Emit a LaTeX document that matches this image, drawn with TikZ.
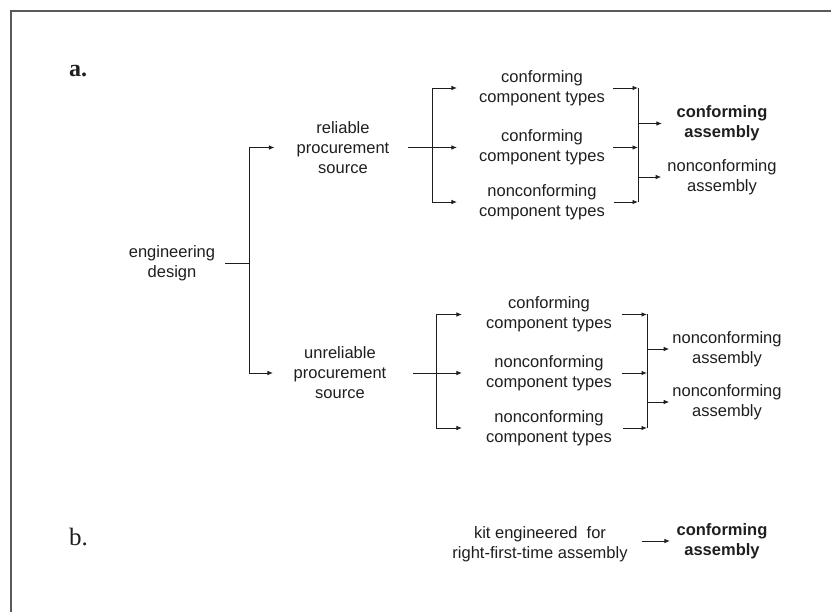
\documentclass[tikz,border=0pt]{standalone}
\usepackage{fontspec}
\setmainfont{Liberation Sans}
\newfontfamily\panelfont{Liberation Serif}
\usetikzlibrary{arrows.meta}
\definecolor{ink}{HTML}{1E1E1E}
\definecolor{framegray}{HTML}{5A5A5A}
\begin{document}
\begin{tikzpicture}[x=1pt,y=-1pt,
  lbl/.style={font=\fontsize{16.5}{20}\selectfont, align=center, inner sep=0pt, text=ink},
  boldlbl/.style={lbl, font=\fontsize{16.5}{20}\selectfont\bfseries},
  panel/.style={anchor=base west, inner sep=0pt, text=ink},
  conn/.style={draw=ink, line width=0.9pt},
  arr/.style={conn, -{Latex[length=5.5pt,width=4.5pt]}},
  frameline/.style={draw=framegray, line width=1.3pt}]
\useasboundingbox (0,0) rectangle (831,612);

% partial frame
\draw[frameline] (831,11) -- (11,11) -- (11,612);

% panel letters
\node[panel, font=\panelfont\fontsize{24}{24}\selectfont\bfseries] (pa) at (69,77) {a.};
\node[panel, font=\panelfont\fontsize{25}{25}\selectfont] (pb) at (69,545) {b.};

% panel a: nodes
\node[lbl] (ed)  at (172,263.5) {engineering\\design};
\node[lbl] (rel) at (343,147.5) {reliable\\procurement\\source};
\node[lbl] (unr) at (340,373) {unreliable\\procurement\\source};

\node[lbl] (c1) at (542,88)    {conforming\\component types};
\node[lbl] (c2) at (542,147.5) {conforming\\component types};
\node[lbl] (c3) at (542,202)   {nonconforming\\component types};
\node[boldlbl] (ca1) at (722,123.5) {conforming\\assembly};
\node[lbl] (na1) at (722,177) {nonconforming\\assembly};

\node[lbl] (d1) at (549,314.5) {conforming\\component types};
\node[lbl] (d2) at (549,373)   {nonconforming\\component types};
\node[lbl] (d3) at (549,428)   {nonconforming\\component types};
\node[lbl] (na2) at (727,349) {nonconforming\\assembly};
\node[lbl] (na3) at (727,402) {nonconforming\\assembly};

% junction points
\coordinate (j0) at (249,263.5);
\coordinate (jr) at (432,147.5);
\coordinate (jc) at (638,147.5);
\coordinate (ju) at (436,373);
\coordinate (jd) at (647,373);

% engineering design -> procurement sources
\draw[conn, shorten <=10pt] (ed.east) -- (j0);
\draw[conn] (j0 |- rel) -- (j0 |- unr);
\draw[arr, shorten >=22pt] (j0 |- rel) -- (rel.west);
\draw[arr, shorten >=20.5pt] (j0 |- unr) -- (unr.west);

% reliable source -> component types
\draw[conn, shorten <=18pt] (rel.east) -- (jr);
\draw[conn] (jr |- c1) -- (jr |- c3);
\draw[arr, shorten >=22pt] (jr |- c1) -- (c1.west);
\draw[arr, shorten >=22pt] (jr) -- (c2.west);
\draw[arr, shorten >=22pt] (jr |- c3) -- (c3.west);

% component types -> assemblies (reliable)
\draw[arr, shorten <=8pt] (c1.east) -- (jc |- c1);
\draw[arr, shorten <=8pt] (c2.east) -- (jc);
\draw[arr, shorten <=9pt] (c3.east) -- (jc |- c3);
\draw[conn] (jc |- c1) -- (jc |- c3);
\draw[arr, shorten >=14.5pt] (jc |- ca1) -- (ca1.west);
\draw[arr, shorten >=6pt] (jc |- na1) -- (na1.west);

% unreliable source -> component types
\draw[conn, shorten <=26.5pt] (unr.east) -- (ju);
\draw[conn] (ju |- d1) -- (ju |- d3);
\draw[arr, shorten >=24pt] (ju |- d1) -- (d1.west);
\draw[arr, shorten >=24pt] (ju) -- (d2.west);
\draw[arr, shorten >=24pt] (ju |- d3) -- (d3.west);

% component types -> assemblies (unreliable)
\draw[arr, shorten <=10pt] (d1.east) -- (jd |- d1);
\draw[arr, shorten <=10pt] (d2.east) -- (jd);
\draw[arr, shorten <=11pt] (d3.east) -- (jd |- d3);
\draw[conn] (jd |- d1) -- (jd |- d3);
\draw[arr, shorten >=3pt] (jd |- na2) -- (na2.west);
\draw[arr, shorten >=3pt] (jd |- na3) -- (na3.west);

% panel b
\node[lbl] (kit) at (540,544) {kit engineered\hspace{9pt}for\\right-first-time assembly};
\node[boldlbl] (ca2) at (722,541) {conforming\\assembly};
\draw[arr, shorten <=14.5pt, shorten >=6.5pt] (kit.east |- ca2.west) -- (ca2.west);
\end{tikzpicture}
\end{document}
